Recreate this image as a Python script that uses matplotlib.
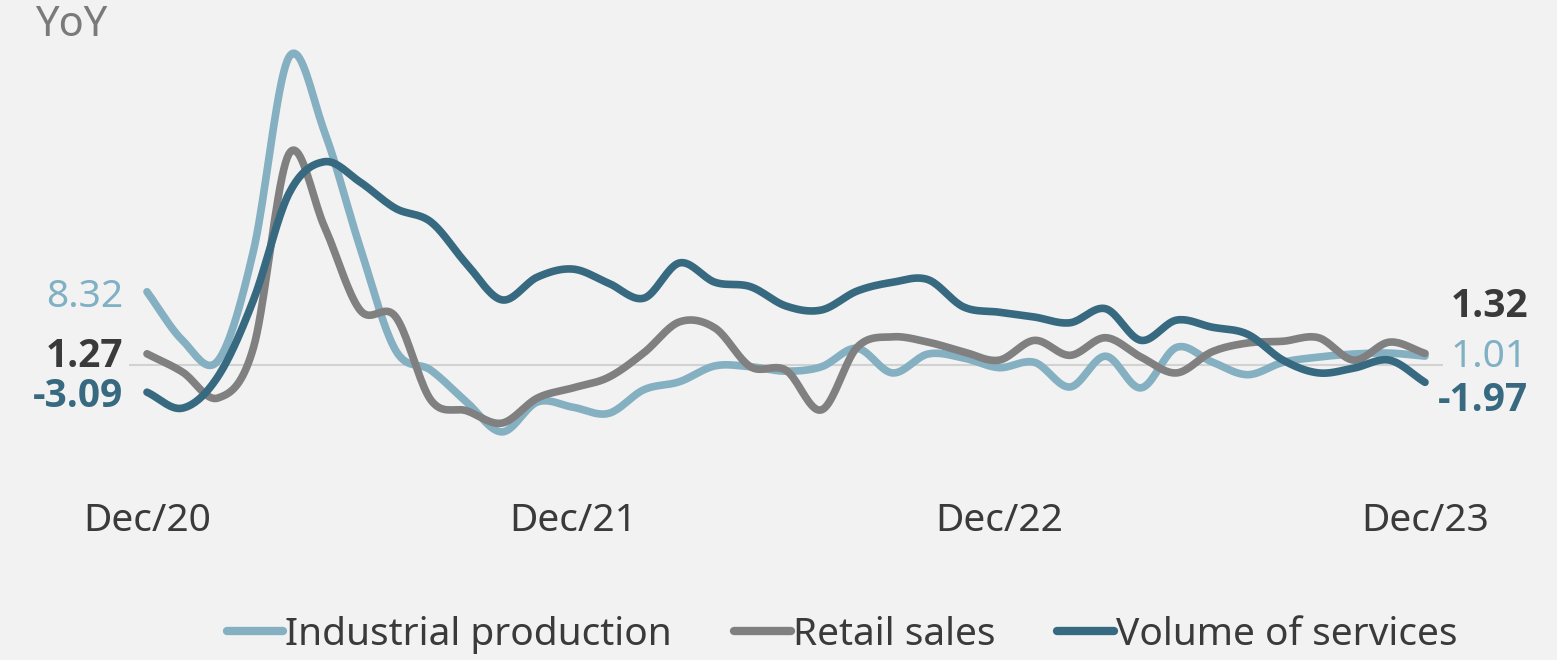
import numpy as np
import matplotlib
matplotlib.use("Agg")
import matplotlib.pyplot as plt
from matplotlib import font_manager

plt.rcParams['font.family'] = ['Noto Sans', 'DejaVu Sans']

# Monthly YoY (%), Dec/20 .. Dec/23
months = np.arange(37)
tick_pos = [0, 12, 24, 36]
tick_labels = ['Dec/20', 'Dec/21', 'Dec/22', 'Dec/23']

industrial = [8.32, 2.8, 0.5, 13.0, 35.0, 26.5, 13.4, 1.7, -0.6, -4.2,
              -7.6, -4.2, -4.8, -5.5, -2.8, -1.9, -0.1, -0.2, -0.7, -0.2,
              1.9, -0.9, 1.25, 0.8, -0.3, 0.3, -2.5, 1.0, -2.6, 2.0,
              0.35, -1.1, 0.3, 0.9, 1.25, 1.35, 1.01]
retail = [1.27, -0.8, -3.75, 2.0, 24.0, 15.7, 6.25, 5.5, -4.0, -5.2,
          -6.6, -3.75, -2.6, -1.4, 1.4, 4.9, 4.2, -0.2, -0.6, -5.1,
          2.0, 3.2, 2.6, 1.5, 0.55, 2.8, 1.1, 3.1, 0.9, -0.9,
          1.5, 2.5, 2.7, 3.1, 0.55, 2.6, 1.32]
services = [-3.09, -4.9, -1.3, 7.4, 19.5, 23.1, 20.8, 17.8, 16.25, 11.5,
            7.4, 10.0, 10.9, 9.3, 7.6, 11.6, 9.4, 8.9, 6.7, 6.25,
            8.4, 9.4, 9.7, 6.6, 6.0, 5.45, 4.8, 6.4, 2.8, 5.1,
            4.3, 3.5, 0.55, -0.9, -0.35, 0.55, -1.97]

names = ['Industrial production', 'Retail sales', 'Volume of services']
colors = ['#84b0c2', '#808080', '#376a80']
label_colors = ['#7fb0c3', '#3a3a3a', '#376a80']
label_weights = ['normal', 'bold', 'bold']
# label offsets in pixels (left end, right end) to keep labels apart
left_off = [-5, -3, -4]
right_off = [-1, 47, -18]


def smooth(x, y, n=20):
    # Catmull-Rom sampling between the monthly points
    x = np.asarray(x, float)
    y = np.asarray(y, float)
    xp = np.concatenate([[2 * x[0] - x[1]], x, [2 * x[-1] - x[-2]]])
    yp = np.concatenate([[2 * y[0] - y[1]], y, [2 * y[-1] - y[-2]]])
    t = np.linspace(0, 1, n, endpoint=False)
    xs, ys = [], []
    for i in range(1, len(xp) - 2):
        for arr, out in ((xp, xs), (yp, ys)):
            p0, p1, p2, p3 = arr[i - 1], arr[i], arr[i + 1], arr[i + 2]
            out.append(0.5 * (2 * p1 + (-p0 + p2) * t
                              + (2 * p0 - 5 * p1 + 4 * p2 - p3) * t ** 2
                              + (-p0 + 3 * p1 - 3 * p2 + p3) * t ** 3))
    xs.append([x[-1]])
    ys.append([y[-1]])
    return np.concatenate(xs), np.concatenate(ys)


# bold numbers: pick a family that really has a bold face
installed = {f.name: f.weight for f in font_manager.fontManager.ttflist
             if f.weight in (700, 'bold')}
bold_family = next((f for f in ['Noto Sans', 'Open Sans', 'Lato', 'Roboto', 'DejaVu Sans']
                    if f in installed), 'DejaVu Sans')

W, H = 1557, 660
fig = plt.figure(figsize=(W / 100, H / 100), dpi=100)
fig.patch.set_facecolor('#f2f2f2')

# axes placed so month 0 -> x=147px, month 36 -> x=1425px, zero -> y=365px
px_per_month = 35.5
px_per_unit = 8.8
y0, y1 = -10, 40
left_px = 147 - 0.5 * px_per_month
width_px = 37 * px_per_month
top_px = 365 - y1 * px_per_unit
height_px = (y1 - y0) * px_per_unit
ax = fig.add_axes([left_px / W, 1 - (top_px + height_px) / H, width_px / W, height_px / H])
ax.set_facecolor('none')
ax.set_xlim(-0.5, 36.5)
ax.set_ylim(y0, y1)

ax.axhline(0, color='#d2d2d2', lw=1.5, zorder=1)

series = [industrial, retail, services]
for vals, name, c in zip(series, names, colors):
    xs, ys = smooth(months, vals)
    ax.plot(xs, ys, color=c, lw=5.5, solid_capstyle='round', label=name, zorder=3)

for vals, lc, lw, lo, ro in zip(series, label_colors, label_weights, left_off, right_off):
    fam = bold_family if lw == 'bold' else 'Noto Sans'
    ax.annotate(f'{vals[0]:.2f}', xy=(months[0], vals[0]), xytext=(-24, lo),
                textcoords='offset pixels', ha='right', va='center',
                fontsize=28, color=lc, fontweight=lw, family=fam)
    ax.annotate(f'{vals[-1]:.2f}', xy=(months[-1], vals[-1]), xytext=(103, ro),
                textcoords='offset pixels', ha='right', va='center',
                fontsize=28, color=lc, fontweight=lw, family=fam)

ax.set_xticks([])
ax.set_yticks([])
for s in ax.spines.values():
    s.set_visible(False)

# month labels at y ~ 520px
trans = ax.get_xaxis_transform()
for p, t in zip(tick_pos, tick_labels):
    ax.text(p, (y1 - (521 - top_px) / px_per_unit - y0) / (y1 - y0), t,
            transform=trans, ha='center', va='center', fontsize=28, color='#3a3a3a')

fig.text(35 / W, 1 - 25 / H, 'YoY', ha='left', va='center', fontsize=30, color='#7a7a7a')

leg = fig.legend(loc='center', bbox_to_anchor=(842 / W, 1 - 635 / H), ncol=3,
                 frameon=False, fontsize=28, handlelength=1.45, handletextpad=0.05,
                 columnspacing=1.6, labelcolor='#3a3a3a')
for h in leg.get_lines():
    h.set_linewidth(6)

fig.savefig('out.png', dpi=100, facecolor=fig.get_facecolor())
